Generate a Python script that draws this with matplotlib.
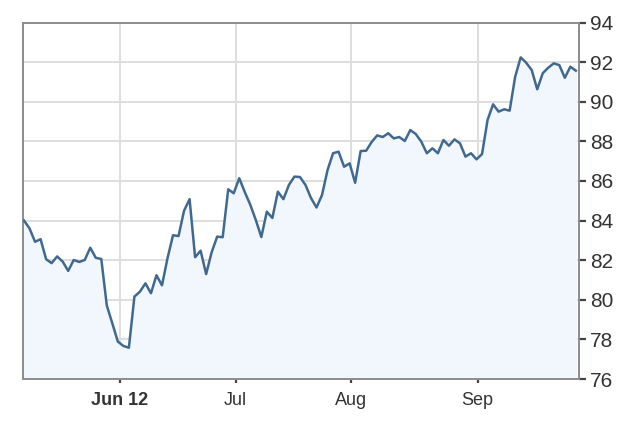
import matplotlib
matplotlib.use("Agg")
import matplotlib.pyplot as plt

# daily closes, one per trading day
prices = [
    84.0, 83.6, 82.93, 83.06, 82.05, 81.85, 82.19, 81.93, 81.46, 82.01,
    81.91, 82.01, 82.63, 82.12, 82.06, 79.71, 78.81, 77.89, 77.67, 77.58,
    80.16, 80.41, 80.83, 80.33, 81.24, 80.73, 82.1, 83.26, 83.22, 84.5,
    85.08, 82.15, 82.48, 81.3, 82.4, 83.19, 83.16, 85.58, 85.38, 86.14,
    85.44, 84.8, 84.03, 83.17, 84.45, 84.13, 85.46, 85.08, 85.8, 86.22,
    86.2, 85.8, 85.14, 84.66, 85.29, 86.55, 87.4, 87.48, 86.72, 86.89,
    85.91, 87.51, 87.53, 87.97, 88.3, 88.22, 88.41, 88.15, 88.22, 88.02,
    88.57, 88.37, 87.98, 87.4, 87.65, 87.4, 88.07, 87.78, 88.1, 87.9,
    87.23, 87.4, 87.09, 87.36, 89.08, 89.87, 89.5, 89.62, 89.55, 91.26,
    92.24, 91.97, 91.6, 90.63, 91.44, 91.72, 91.94, 91.85, 91.21, 91.77,
    91.57,
]
days = list(range(len(prices)))

month_labels = ["Jun 12", "Jul", "Aug", "Sep"]
month_pos = [17.4, 38.35, 59.24, 82.2]
y_ticks = [76, 78, 80, 82, 84, 86, 88, 90, 92, 94]

plt.rcParams["font.family"] = ["Liberation Sans", "DejaVu Sans"]

fig = plt.figure(figsize=(6.4, 4.42), dpi=100)
ax = fig.add_axes([0.036, 0.1425, 0.868, 0.8065])

ax.fill_between(days, prices, 76, color="#f2f7fe", zorder=1)
ax.plot(days, prices, color="#41698f", linewidth=1.8, solid_joinstyle="round",
        zorder=3)

ax.set_xlim(-0.18, 100.49)
ax.set_ylim(76, 94)

ax.set_xticks(month_pos)
ax.set_xticklabels(month_labels)
ax.get_xticklabels()[0].set_fontweight("bold")
ax.set_yticks(y_ticks)

ax.yaxis.tick_right()
ax.grid(True, color="#dedede", linewidth=1.4, zorder=0)
ax.set_axisbelow(True)

for s in ax.spines.values():
    s.set_color("#8c8c8c")
    s.set_linewidth(1.4)

ax.tick_params(axis="y", direction="out", length=5, width=1.6, color="#444444",
               labelsize=15, labelcolor="#333333", pad=3)
ax.tick_params(axis="x", direction="out", length=3, width=1.6, color="#444444",
               labelsize=13, labelcolor="#333333", pad=6)

fig.savefig("out.png", dpi=100, facecolor="white")
